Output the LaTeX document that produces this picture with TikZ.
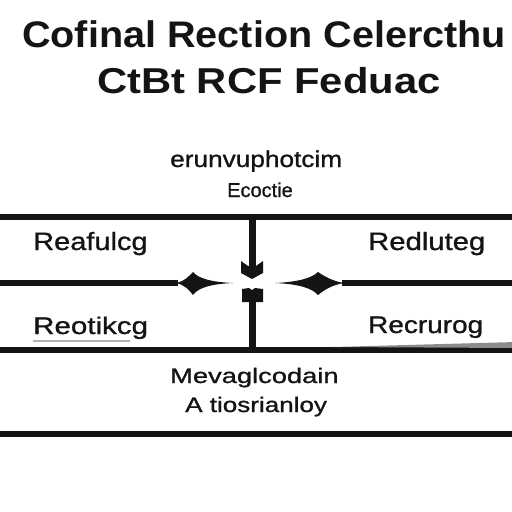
\documentclass[tikz,border=0pt]{standalone}
\usepackage{fontspec}
\setmainfont{Liberation Sans}
\newfontfamily\medfont{Liberation Sans}[FakeBold=0.9]
\usepackage{graphicx}
\newcommand\sx[2]{\scalebox{#1}[1]{#2}}
\begin{document}
\begin{tikzpicture}[x=1pt,y=-1pt,
  lbl/.style={inner sep=0pt, anchor=base west, text=black!92},
  rule/.style={line width=5.5pt, black!92},
  stem/.style={line width=7pt, black!92},
  tipfill/.style={fill=black!92},
  ghost/.style={fill=black!45}]
\useasboundingbox (0,0) rectangle (512,512);
\fill[white] (0,0) rectangle (512,512);

% title
\node[lbl, font=\bfseries\fontsize{37}{40}\selectfont] (t1) at (22,47) {\sx{1.07}{Cofinal Rection Celercthu}};
\node[lbl, font=\bfseries\fontsize{36}{40}\selectfont] (t2) at (97,93) {\sx{1.16}{CtBt RCF Feduac}};

% subtitle
\node[lbl, font=\medfont\fontsize{23}{26}\selectfont] (s1) at (170,167) {\sx{1.14}{erunvuphotcim}};
\node[lbl, font=\medfont\fontsize{20}{24}\selectfont] (s2) at (227,197) {\sx{1.0}{Ecoctie}};

% labels
\node[lbl, font=\medfont\fontsize{25}{28}\selectfont] (l1) at (33,250) {\sx{1.16}{Reafulcg}};
\node[lbl, font=\medfont\fontsize{25}{28}\selectfont] (r1) at (368,250) {\sx{1.17}{Redluteg}};
\node[lbl, font=\medfont\fontsize{24}{28}\selectfont] (l2) at (33,334) {\sx{1.23}{Reotikcg}};
\node[lbl, font=\medfont\fontsize{24}{28}\selectfont] (r2) at (368,333) {\sx{1.165}{Recrurog}};
\node[lbl, font=\medfont\fontsize{21}{25}\selectfont] (b1) at (170,383) {\sx{1.3}{Mevaglcodain}};
\node[lbl, font=\medfont\fontsize{21}{25}\selectfont] (b2) at (185,412) {\sx{1.24}{A tiosrianloy}};

% rule coordinates
\coordinate (h1a) at (-4,217); \coordinate (h1b) at (516,217);
\coordinate (h3a) at (-4,350); \coordinate (h3b) at (516,350);
\coordinate (h4a) at (-4,434); \coordinate (h4b) at (516,434);
\coordinate (mLa) at (-4,283); \coordinate (mLb) at (178,283);
\coordinate (mRa) at (342,283); \coordinate (mRb) at (516,283);
\coordinate (vTop) at (252,217); \coordinate (vTopEnd) at (252,267);
\coordinate (vBot) at (252,350); \coordinate (vBotEnd) at (252,300);

\draw[rule] (h1a) -- (h1b);
\draw[rule] (h3a) -- (h3b);
\draw[rule] (h4a) -- (h4b);
\draw[rule] (mLa) -- (mLb);
\draw[rule] (mRa) -- (mRb);

% faint artifacts
\fill[ghost] (333,347) -- (516,342) -- (516,348) -- cycle;
\draw[black!30, line width=1.5pt] (33,341) -- (130,341);

% left diamond pointer
\fill[tipfill] (176,283) .. controls (185,281) and (189,276) .. (193,272)
  .. controls (198,278) and (210,282) .. (233,283)
  .. controls (210,284) and (198,288) .. (193,295)
  .. controls (189,290) and (185,285) .. cycle;
% right diamond pointer
\fill[tipfill] (344,283) .. controls (332,281) and (324,276) .. (318,272)
  .. controls (312,278) and (298,282) .. (275,283)
  .. controls (298,284) and (312,288) .. (318,295)
  .. controls (324,290) and (332,285) .. cycle;

% vertical arrows
\draw[stem] (vTop) -- (vTopEnd);
\fill[tipfill] (241,261) -- (248,266) -- (256,266) -- (263,261) -- (263,273) -- (252,279) -- (241,273) -- cycle;
\draw[stem] (vBot) -- (vBotEnd);
\fill[tipfill] (242,289) -- (249,288) -- (252,290) -- (255,288) -- (263,289) -- (263,302) -- (242,302) -- cycle;
\end{tikzpicture}
\end{document}
